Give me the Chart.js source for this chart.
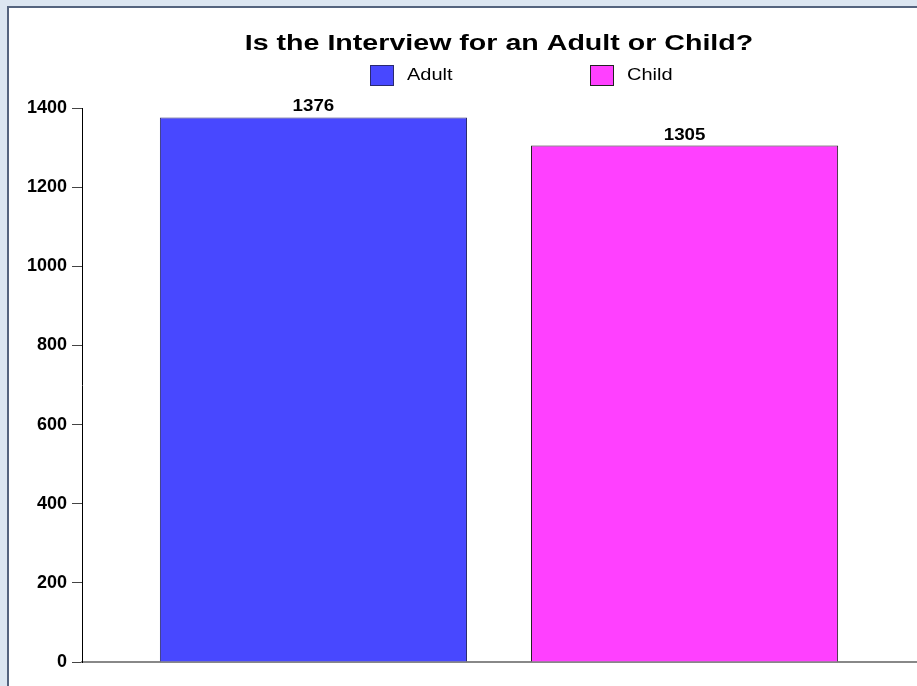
<!DOCTYPE html>
<html>
<head>
<meta charset="utf-8">
<script src="https://cdn.jsdelivr.net/npm/chart.js@4"></script>
<style>
  html, body { margin: 0; padding: 0; }
  body { width: 917px; height: 686px; background: #dce6f1; overflow: hidden; position: relative; }
  .panel {
    position: absolute; left: 7px; top: 6px; width: 920px; height: 690px;
    background: #fff; border-left: 2px solid #55647e; border-top: 2px solid #55647e;
  }
  .wrap { position: absolute; left: 9px; top: 8px; width: 908px; height: 678px; }
</style>
</head>
<body>
<div class="panel"></div>
<div class="wrap"><canvas id="myChart"></canvas></div>
<script>
const categories = [''];
const seriesNames = ['Adult', 'Child'];
const adultValues = [1376];
const childValues = [1305];
const yTicks = [0, 200, 400, 600, 800, 1000, 1200, 1400];
const chartTitle = 'Is the Interview for an Adult or Child?';

const fillColors = ['#4848ff', '#ff40ff'];
const edgeColors = ['#2a2a70', '#222222'];

const font = 'Arial, "Liberation Sans", sans-serif';

// the original's lettering is a bit wider than plain Arial, so squeeze it out sideways
function wideText(ctx, text, x, y, sx, align) {
    ctx.save();
    ctx.translate(x, y);
    ctx.scale(sx, 1);
    ctx.textAlign = align;
    ctx.fillText(text, 0, 0);
    ctx.restore();
}

const titleAndLegend = {
    id: 'titleAndLegend',
    afterDraw(chart) {
        const ctx = chart.ctx;
        const area = chart.chartArea;
        ctx.save();
        ctx.fillStyle = '#000';
        ctx.textBaseline = 'middle';
        ctx.font = 'bold 22px ' + font;
        wideText(ctx, chartTitle, (area.left + area.right) / 2, 36, 1.3, 'center');

        // legend, two items spread wide apart
        const left = area.left + 288;
        ctx.font = '16px ' + font;
        chart.data.datasets.forEach((ds, i) => {
            const x = left + i * 220;
            const y = 57;
            ctx.fillStyle = ds.backgroundColor;
            ctx.fillRect(x, y, 24, 21);
            ctx.strokeStyle = ds.borderColor;
            ctx.lineWidth = 1;
            ctx.strokeRect(x + 0.5, y + 0.5, 23, 20);
            ctx.fillStyle = '#000';
            wideText(ctx, ds.label, x + 37, y + 11, 1.25, 'left');
        });
        ctx.restore();
    }
};

const valueLabels = {
    id: 'valueLabels',
    afterDatasetsDraw(chart) {
        const ctx = chart.ctx;
        ctx.save();
        ctx.font = 'bold 16px ' + font;
        ctx.fillStyle = '#000';
        ctx.textBaseline = 'alphabetic';
        chart.data.datasets.forEach((ds, i) => {
            chart.getDatasetMeta(i).data.forEach((bar, j) => {
                wideText(ctx, String(ds.data[j]), bar.x, bar.y - 6, 1.17, 'center');
            });
        });
        ctx.restore();
    }
};

const myChart = document.getElementById('myChart');

let globalChart = new Chart(myChart, {
    type: 'bar',
    data: {
        labels: categories,
        datasets: [
            {
                label: seriesNames[0],
                data: adultValues,
                backgroundColor: fillColors[0],
                borderColor: edgeColors[0],
                borderWidth: 1,
                categoryPercentage: 0.89,
                barPercentage: 0.8275
            },
            {
                label: seriesNames[1],
                data: childValues,
                backgroundColor: fillColors[1],
                borderColor: edgeColors[1],
                borderWidth: 1,
                categoryPercentage: 0.89,
                barPercentage: 0.8275
            }
        ]
    },
    options: {
        responsive: true,
        maintainAspectRatio: false,
        animation: false,
        layout: {
            padding: { left: 0, right: 1, top: 100, bottom: 24 }
        },
        scales: {
            x: {
                grid: { display: false, drawTicks: false },
                ticks: { display: false },
                border: { color: '#888', width: 2 }
            },
            y: {
                min: 0,
                max: 1400,
                afterBuildTicks: (scale) => {
                    scale.ticks = yTicks.map(v => ({ value: v }));
                },
                afterFit: (scale) => { scale.width = 73; },
                grid: {
                    drawOnChartArea: false,
                    tickLength: 10,
                    color: '#444'
                },
                border: { color: '#000', width: 1 },
                ticks: {
                    padding: 5,
                    color: '#000',
                    font: { family: font, size: 18, weight: 'bold' },
                    callback: (v) => String(v)
                }
            }
        },
        plugins: {
            title: { display: false },
            legend: { display: false },
            tooltip: { enabled: false }
        }
    },
    plugins: [titleAndLegend, valueLabels]
});
</script>
</body>
</html>
